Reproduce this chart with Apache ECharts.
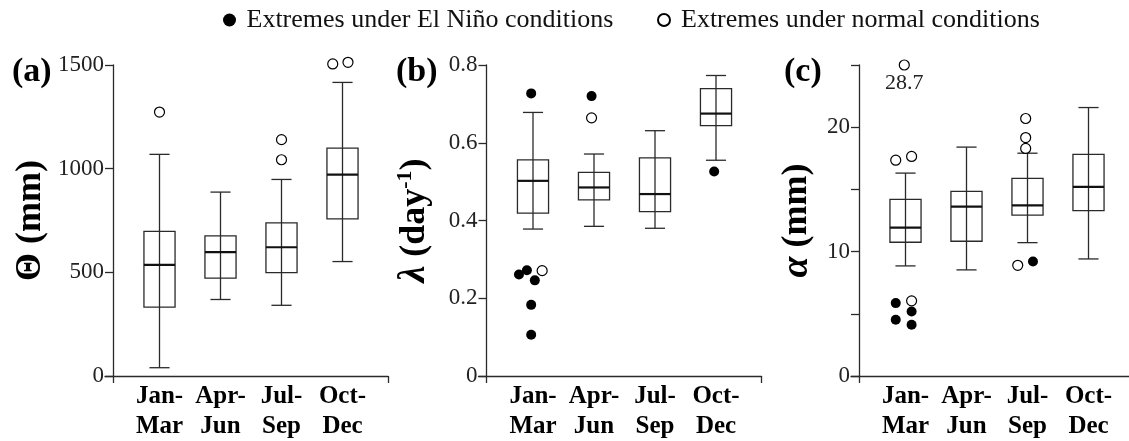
<!DOCTYPE html>
<html>
<head>
<meta charset="utf-8">
<script src="https://cdn.jsdelivr.net/npm/echarts@6/dist/echarts.min.js"></script>
<style>
  html, body { margin: 0; padding: 0; background: #fff; }
  #chart { width: 1129px; height: 441px; }
</style>
</head>
<body>
<div id="chart"></div>
<script>
// Seasons on the horizontal axis (slot 1..4)
const seasons = ['Jan-\nMar', 'Apr-\nJun', 'Jul-\nSep', 'Oct-\nDec'];

// Box summaries per season: [lower whisker, Q1, median, Q3, upper whisker]
const thetaBoxes = [
  [40, 332, 536, 698, 1069],
  [369, 472, 597, 676, 887],
  [341, 499, 621, 739, 948],
  [552, 758, 971, 1099, 1416]
];
const lambdaBoxes = [
  [0.378, 0.419, 0.502, 0.556, 0.678],
  [0.385, 0.453, 0.485, 0.524, 0.571],
  [0.380, 0.423, 0.468, 0.561, 0.631],
  [0.555, 0.644, 0.675, 0.739, 0.773]
];
const alphaBoxes = [
  [8.85, 10.75, 11.93, 14.20, 16.31],
  [8.53, 10.83, 13.61, 14.84, 18.40],
  [10.72, 12.94, 13.72, 15.88, 17.91],
  [9.41, 13.29, 15.21, 17.81, 21.58]
];

// Extreme years: [season slot (with small side-by-side spread), value]
const thetaElNino = [];
const thetaNormal = [[1.00, 1273], [3.00, 1043], [3.00, 1140], [3.84, 1505], [4.09, 1513]];

const lambdaElNino = [
  [0.97, 0.727], [0.77, 0.261], [0.90, 0.272], [1.03, 0.246],
  [0.97, 0.183], [0.97, 0.106], [1.96, 0.720], [3.97, 0.526]
];
const lambdaNormal = [[1.15, 0.271], [1.96, 0.664]];

const alphaElNino = [[0.84, 5.86], [1.10, 5.19], [0.84, 4.52], [1.10, 4.12], [3.09, 9.20]];
const alphaNormal = [
  [0.84, 17.35], [1.10, 17.65], [1.10, 6.04],
  [2.97, 20.70], [2.97, 19.17], [2.97, 18.29], [2.84, 8.90]
];
// Normal-year extreme beyond the top of the α scale: pinned to the axis top, value written below
const alphaNormalOffScale = [[0.98, 28.7]];

// Value-axis ranges and tick steps
const thetaRange = [0, 1500, 500];
const lambdaRange = [0, 0.8, 0.2];
const alphaRange = [0, 25, 5];
const alphaLabelled = [0, 10, 20];

const NAME_ELNINO = 'Extremes under El Niño conditions';
const NAME_NORMAL = 'Extremes under normal conditions';

const SERIF = 'Liberation Serif';
const INK = '#2a2a2a';

const chart = echarts.init(document.getElementById('chart'), null, { renderer: 'canvas' });

// Horizontal geometry shared by the three panels
const SLOT = 61;          // px between neighbouring seasons
const FIRST = 46.5;       // px from the value axis to the first season
const LEAD = 8;           // x axis runs this far left of the value axis
const SPAN = 283;         // total x-axis length
const GRID_TOP = 65, GRID_H = 311;

function renderBox(params, api) {
  const x = api.value(0);
  const unit = api.size([1, 0])[0];
  const half = unit * 0.255;
  const cap = unit * 0.165;
  const pt = i => api.coord([x, api.value(i)]);
  const lo = pt(1), q1 = pt(2), md = pt(3), q3 = pt(4), hi = pt(5);
  const cx = lo[0];
  const st = { stroke: INK, lineWidth: 1.3, fill: 'rgba(0,0,0,0)' };
  return {
    type: 'group',
    children: [
      { type: 'line', shape: { x1: cx, y1: hi[1], x2: cx, y2: lo[1] }, style: st },
      { type: 'line', shape: { x1: cx - cap, y1: hi[1], x2: cx + cap, y2: hi[1] }, style: st },
      { type: 'line', shape: { x1: cx - cap, y1: lo[1], x2: cx + cap, y2: lo[1] }, style: st },
      { type: 'rect', shape: { x: cx - half, y: q3[1], width: 2 * half, height: q1[1] - q3[1] }, style: st },
      { type: 'line', shape: { x1: cx - half, y1: md[1], x2: cx + half, y2: md[1] }, style: { stroke: '#111', lineWidth: 2.2 } }
    ]
  };
}

const panels = [
  { axisX: 113, boxes: thetaBoxes, elnino: thetaElNino, normal: thetaNormal, offScale: [], range: thetaRange,
    name: 'Θ (mm)', nameGap: 64, tag: '(a)', tagLeft: 12,
    fmt: v => String(v) },
  { axisX: 486.5, boxes: lambdaBoxes, elnino: lambdaElNino, normal: lambdaNormal, offScale: [], range: lambdaRange,
    name: '{i|λ} {b|(day}{s|-1}{b|)}', nameGap: 52, tag: '(b)', tagLeft: 396,
    fmt: v => String(v) },
  { axisX: 859, boxes: alphaBoxes, elnino: alphaElNino, normal: alphaNormal, offScale: alphaNormalOffScale, range: alphaRange,
    name: '{i|α} {b|(mm)}', nameGap: 42, tag: '(c)', tagLeft: 784,
    fmt: v => (alphaLabelled.indexOf(v) >= 0 ? String(v) : '') }
];

const grid = [], xAxis = [], yAxis = [], series = [], title = [];

const openStyle = { color: '#fff', borderColor: '#000', borderWidth: 1.2, opacity: 1 };
const fullStyle = { color: '#000', opacity: 1 };

panels.forEach((p, k) => {
  const left = p.axisX - LEAD;
  const xMin = 1 - (FIRST + LEAD) / SLOT;
  const xMax = xMin + SPAN / SLOT;
  const yMax = p.range[1];

  grid.push({ left: left, top: GRID_TOP, width: SPAN, height: GRID_H,
    containLabel: false, outerBoundsMode: 'none' });

  xAxis.push({
    type: 'value', gridIndex: k, min: xMin, max: xMax,
    splitLine: { show: false },
    axisLine: { onZero: true, lineStyle: { color: INK, width: 1.3 } },
    axisTick: { show: true, customValues: [1 - FIRST / SLOT, xMax], length: 7,
      lineStyle: { color: INK, width: 1.3 } },
    axisLabel: {
      customValues: [1, 2, 3, 4],
      formatter: v => seasons[Math.round(v) - 1] || '',
      fontFamily: SERIF, fontWeight: 'bold', fontSize: 25, lineHeight: 30,
      color: '#000', margin: 6
    }
  });

  yAxis.push({
    type: 'value', gridIndex: k, min: p.range[0], max: yMax, interval: p.range[2],
    offset: -LEAD,
    splitLine: { show: false },
    axisLine: { show: true, onZero: false, lineStyle: { color: INK, width: 1.3 } },
    axisTick: { show: true, length: 8, lineStyle: { color: INK, width: 1.3 } },
    axisLabel: { formatter: p.fmt, fontFamily: SERIF, fontSize: 23, color: '#222', margin: 9 },
    name: p.name, nameLocation: 'middle', nameGap: p.nameGap, nameRotate: 90,
    nameMoveOverlap: false,
    nameTextStyle: {
      fontFamily: SERIF, fontWeight: 'bold', fontSize: 36, color: '#000',
      rich: {
        b: { fontFamily: SERIF, fontWeight: 'bold', fontSize: 36, lineHeight: 40, color: '#000' },
        i: { fontFamily: SERIF, fontWeight: 'bold', fontStyle: 'italic', fontSize: 38, lineHeight: 40, color: '#000' },
        s: { fontFamily: SERIF, fontWeight: 'bold', fontSize: 22, lineHeight: 22, verticalAlign: 'top', color: '#000', padding: [0, 0, 16, 0] }
      }
    }
  });

  series.push({
    type: 'custom', xAxisIndex: k, yAxisIndex: k, renderItem: renderBox,
    encode: { x: 0, y: [1, 2, 3, 4, 5] },
    data: p.boxes.map((b, i) => [i + 1].concat(b)), z: 2, silent: true
  });

  series.push({
    type: 'scatter', name: NAME_ELNINO, xAxisIndex: k, yAxisIndex: k, clip: false,
    symbol: 'circle', symbolSize: 10, z: 3, itemStyle: fullStyle,
    data: p.elnino.map(d => [d[0], d[1]])
  });

  series.push({
    type: 'scatter', name: NAME_NORMAL, xAxisIndex: k, yAxisIndex: k, clip: false,
    symbol: 'circle', symbolSize: 10, z: 3, itemStyle: openStyle,
    data: p.normal.map(d => [d[0], d[1]])
      .concat(p.offScale.map(d => ({
        value: [d[0], Math.min(d[1], yMax), d[1]],
        label: { show: true, position: 'bottom', distance: 2,
          formatter: q => String(q.value[2]),
          fontFamily: SERIF, fontSize: 22, color: '#222' }
      })))
  });

  title.push({ text: p.tag, left: p.tagLeft, top: 55, padding: 0,
    textStyle: { fontFamily: SERIF, fontWeight: 'bold', fontSize: 34, color: '#000' } });
});

const legendText = { fontFamily: SERIF, fontSize: 26, color: '#111' };

chart.setOption({
  backgroundColor: '#fff',
  animation: false,
  title: title,
  legend: [
    { data: [NAME_ELNINO], left: 223, top: 7, itemWidth: 24, itemHeight: 13, selectedMode: false,
      padding: 0, textStyle: legendText },
    { data: [NAME_NORMAL], left: 657, top: 7, itemWidth: 24, itemHeight: 12, selectedMode: false,
      padding: 0, textStyle: legendText }
  ],
  grid: grid,
  xAxis: xAxis,
  yAxis: yAxis,
  series: series
});
</script>
</body>
</html>
